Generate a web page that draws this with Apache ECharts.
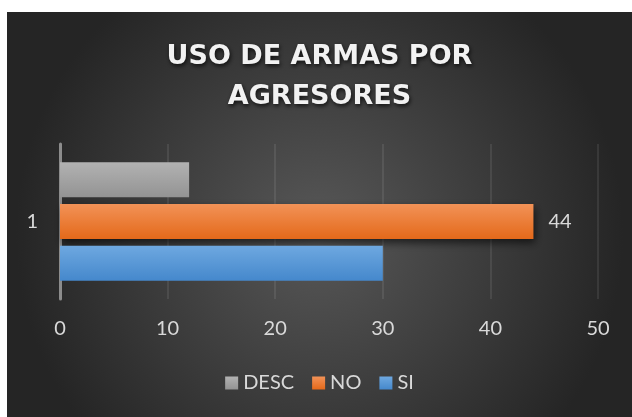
<!DOCTYPE html>
<html>
<head>
<meta charset="utf-8">
<script src="https://cdn.jsdelivr.net/npm/echarts@6/dist/echarts.min.js"></script>
<style>
html, body { margin: 0; padding: 0; background: #fff; }
#chart { position: absolute; left: 7px; top: 12px; width: 625px; height: 405px; }
</style>
</head>
<body>
<div id="chart"></div>
<script>
// datos
var categories = ['1'];
var legendNames = ['DESC', 'NO', 'SI'];
var descData = [12];
var noData = [44];
var siData = [30];
var xMin = 0, xMax = 50, xStep = 10;

var chart = echarts.init(document.getElementById('chart'));

function grad(top, bottom) {
	return new echarts.graphic.LinearGradient(0, 0, 0, 1, [
		{ offset: 0, color: top },
		{ offset: 1, color: bottom }
	]);
}

var labelFont = 'Lato, "Open Sans", sans-serif';
var barShadow = {
	shadowColor: 'rgba(0,0,0,0.6)',
	shadowBlur: 8,
	shadowOffsetX: 2,
	shadowOffsetY: 4
};

var option = {
	backgroundColor: new echarts.graphic.RadialGradient(0.5, 0.55, 0.75, [
		{ offset: 0, color: '#585858' },
		{ offset: 1, color: '#252525' }
	]),
	title: {
		text: 'USO DE ARMAS POR\nAGRESORES',
		left: 'center',
		top: 20,
		textStyle: {
			fontFamily: '"DejaVu Sans", sans-serif',
			fontWeight: 'bold',
			fontSize: 27,
			lineHeight: 40,
			color: '#f2f2f2',
			textShadowColor: 'rgba(0,0,0,0.75)',
			textShadowBlur: 4,
			textShadowOffsetX: 1,
			textShadowOffsetY: 2
		}
	},
	legend: {
		data: legendNames,
		bottom: 19,
		left: 'center',
		itemWidth: 13,
		itemHeight: 13,
		itemGap: 18,
		icon: 'rect',
		textStyle: { color: '#d9d9d9', fontSize: 20, fontFamily: labelFont }
	},
	grid: {
		left: 53,
		right: 34,
		top: 132,
		bottom: 118
	},
	xAxis: {
		type: 'value',
		min: xMin,
		max: xMax,
		interval: xStep,
		axisLine: { show: false },
		axisTick: { show: false },
		splitLine: { lineStyle: { color: 'rgba(255,255,255,0.11)', width: 1.5 } },
		axisLabel: { color: '#d9d9d9', fontSize: 20, fontFamily: labelFont, margin: 20 }
	},
	yAxis: {
		type: 'category',
		data: categories,
		axisLine: { show: true, lineStyle: { color: '#8c8c8c', width: 3 } },
		axisTick: { show: false },
		axisLabel: { color: '#d9d9d9', fontSize: 20, fontFamily: labelFont, margin: 22 }
	},
	series: [
		{
			name: 'DESC',
			type: 'bar',
			data: descData,
			barWidth: 35,
			barGap: '19%',
			itemStyle: Object.assign({ color: grad('#b2b2b2', '#939393') }, barShadow)
		},
		{
			name: 'NO',
			type: 'bar',
			data: noData,
			barWidth: 35,
			barGap: '19%',
			itemStyle: Object.assign({ color: grad('#f29257', '#e4691a') }, barShadow),
			label: {
				show: true,
				position: 'right',
				distance: 15,
				color: '#d9d9d9',
				fontSize: 20,
				fontFamily: labelFont
			}
		},
		{
			name: 'SI',
			type: 'bar',
			data: siData,
			barWidth: 35,
			barGap: '19%',
			itemStyle: Object.assign({ color: grad('#6ea8e0', '#4588cc') }, barShadow)
		}
	]
};

chart.setOption(option);
</script>
</body>
</html>
